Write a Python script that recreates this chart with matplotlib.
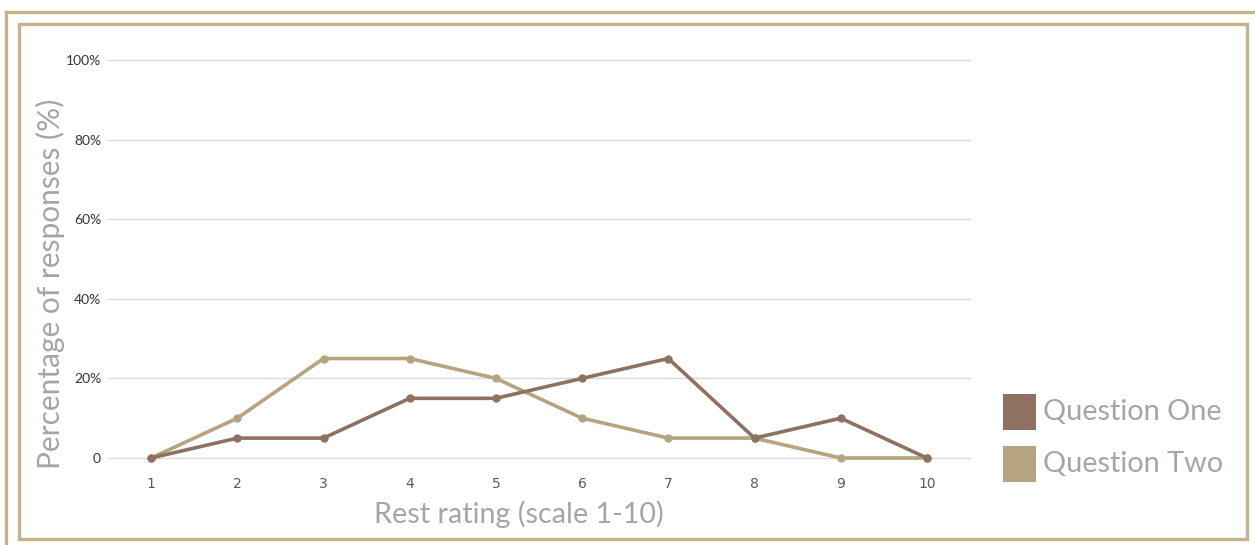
import matplotlib
matplotlib.use("Agg")
import matplotlib.pyplot as plt
from matplotlib.patches import Rectangle
from matplotlib.lines import Line2D

# Rest rating categories and response shares (%)
ratings = ["1", "2", "3", "4", "5", "6", "7", "8", "9", "10"]
question_one = [0, 5, 5, 15, 15, 20, 25, 5, 10, 0]
question_two = [0, 10, 25, 25, 20, 10, 5, 5, 0, 0]
y_ticks = [0, 20, 40, 60, 80, 100]
y_tick_labels = ["0", "20%", "40%", "60%", "80%", "100%"]
series_names = ["Question One", "Question Two"]

c_one = "#8E7160"
c_two = "#B5A47F"
frame_c = "#C4B28C"
label_c = "#A3A6A6"
title_font = "Lato"

W, H = 1255, 545
fig = plt.figure(figsize=(W / 100, H / 100), dpi=100)
fig.patch.set_facecolor("white")

ax = fig.add_axes([108 / W, 1 - 458 / H, 862 / W, 398 / H])
x = list(range(len(ratings)))
ax.plot(x, question_two, color=c_two, lw=2.6, marker="o", ms=5,
        solid_joinstyle="round", clip_on=False, zorder=3)
ax.plot(x, question_one, color=c_one, lw=2.6, marker="o", ms=5,
        solid_joinstyle="round", clip_on=False, zorder=4)

ax.set_xlim(-0.5, len(ratings) - 0.5)
ax.set_ylim(0, 100)
ax.set_xticks(x)
ax.set_xticklabels(ratings)
ax.set_yticks(y_ticks)
ax.set_yticklabels(y_tick_labels)
ax.grid(axis="y", color="#DADADA", lw=1)
for gl in ax.yaxis.get_gridlines():
    gl.set_clip_on(False)
ax.set_axisbelow(True)
for s in ax.spines.values():
    s.set_visible(False)
ax.tick_params(axis="both", length=0, labelsize=10)
ax.tick_params(axis="x", pad=14, labelcolor="#5A5A5A")
ax.tick_params(axis="y", pad=5, labelcolor="#333333")
for t in ax.get_yticklabels():
    t.set_family(title_font)

fig.text(519 / W, 1 - 514 / H, "Rest rating (scale 1-10)", ha="center",
         va="center", fontsize=20.7, color=label_c, family=title_font)
fig.text(50 / W, 1 - 284 / H, "Percentage of responses (%)", ha="center",
         va="center", rotation=90, fontsize=21.5, color=label_c,
         family=title_font)

# Legend: colour swatches with series names
for i, (name, col) in enumerate(zip(series_names, [c_one, c_two])):
    top = 394 + 52 * i
    fig.add_artist(Rectangle((1003 / W, 1 - (top + 36) / H), 33 / W, 36 / H,
                             transform=fig.transFigure, facecolor=col,
                             edgecolor="none"))
    fig.text(1043 / W, 1 - (top + 18) / H, name, ha="left", va="center",
             fontsize=20.8, color=label_c, family=title_font)

# Decorative frames
fig.add_artist(Rectangle((19 / W, 1 - 539 / H), (1247 - 19) / W, (539 - 24) / H,
                         transform=fig.transFigure, fill=False,
                         edgecolor=frame_c, lw=2.4))
fig.add_artist(Line2D([6 / W, 1], [1 - 11.5 / H, 1 - 11.5 / H],
                      transform=fig.transFigure, color=frame_c, lw=2.4))
fig.add_artist(Line2D([6 / W, 6 / W], [0, 1 - 11.5 / H],
                      transform=fig.transFigure, color=frame_c, lw=2.4))

fig.savefig("out.png", dpi=100, facecolor="white")
